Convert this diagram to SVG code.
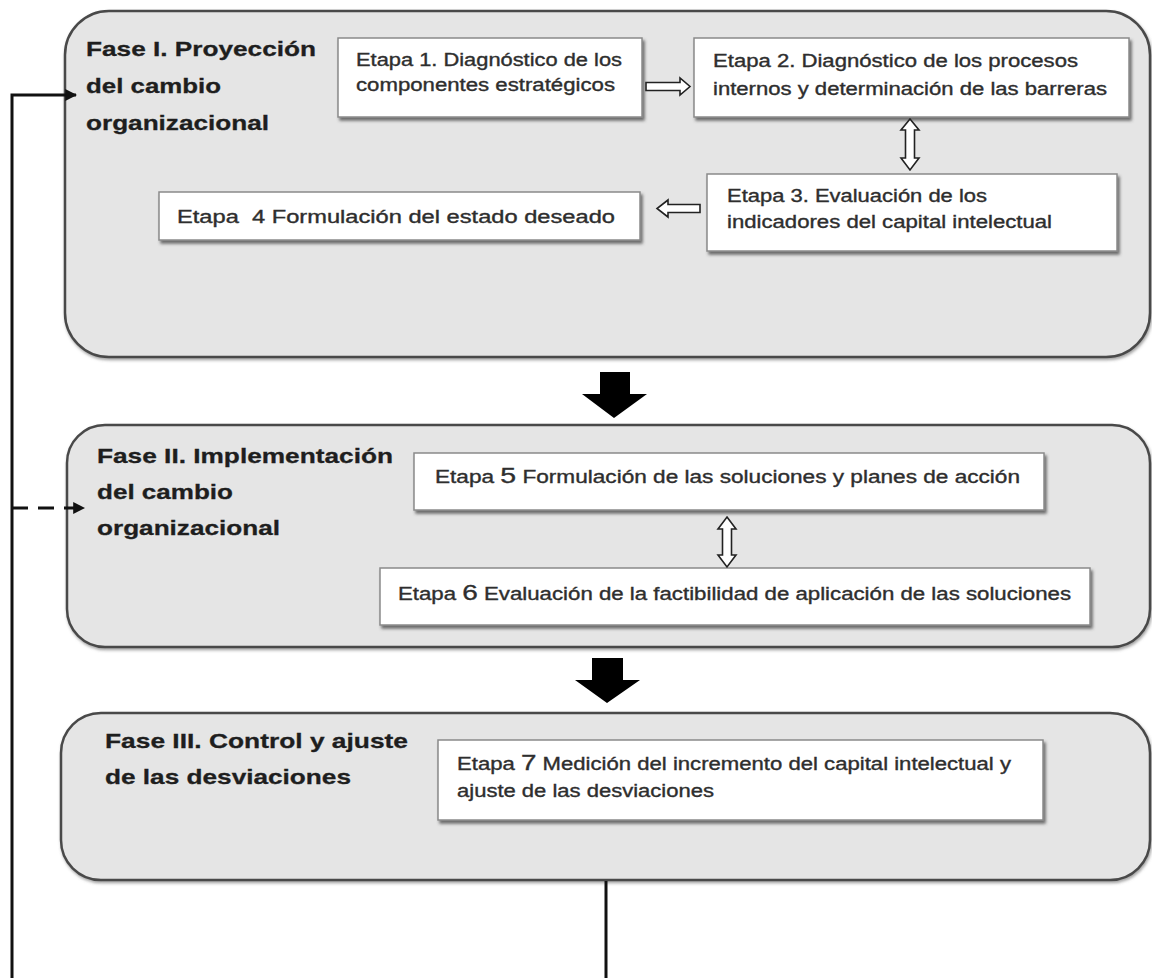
<svg xmlns="http://www.w3.org/2000/svg" width="1152" height="978" viewBox="0 0 1152 978">
  <defs>
    <filter id="phaseShadow" x="-5%" y="-5%" width="110%" height="115%">
      <feDropShadow dx="1" dy="2" stdDeviation="1.5" flood-color="#666" flood-opacity="0.6"/>
    </filter>
    <filter id="stageShadow" x="-5%" y="-10%" width="110%" height="130%">
      <feDropShadow dx="2" dy="3" stdDeviation="1.6" flood-color="#444" flood-opacity="0.75"/>
    </filter>
    <marker id="headSmall" viewBox="0 0 10 10" refX="9" refY="5" markerWidth="4" markerHeight="4" orient="auto" markerUnits="strokeWidth">
      <path d="M0,0 L10,5 L0,10 Z" fill="#111"/>
    </marker>
    <style>
      .phase { fill: #e5e5e5; stroke: #4a4a4a; stroke-width: 2.5; filter: url(#phaseShadow); }
      .stage { fill: #ffffff; stroke: #8a8a8a; stroke-width: 1.5; filter: url(#stageShadow); }
      .ptitle { font-family: "Liberation Sans", Arial, sans-serif; font-weight: bold; font-size: 21px; fill: #1e1e1e; stroke: #1e1e1e; stroke-width: 0.3; }
      .stext { font-family: "Liberation Sans", Arial, sans-serif; font-size: 17.5px; fill: #2e2e2e; stroke: #2e2e2e; stroke-width: 0.35; }
      .big { font-size: 22px; }
      .hollow { fill: #ffffff; stroke: #222; stroke-width: 1.6; stroke-linejoin: miter; }
      .solid { fill: #000; }
      .line { fill: none; stroke: #111; stroke-width: 3; }
    </style>
  </defs>

  <rect width="1152" height="978" fill="#ffffff"/>

  <!-- Phase I -->
  <g id="fase1">
    <rect class="phase" x="65" y="11" width="1085" height="346" rx="44" ry="44"/>
    <text class="ptitle">
      <tspan x="86" y="56" textLength="230" lengthAdjust="spacingAndGlyphs">Fase I. Proyección</tspan>
      <tspan x="86" y="93" textLength="135" lengthAdjust="spacingAndGlyphs">del cambio</tspan>
      <tspan x="86" y="130" textLength="183" lengthAdjust="spacingAndGlyphs">organizacional</tspan>
    </text>
  </g>

  <g id="etapa1">
    <rect class="stage" x="338" y="38" width="304" height="79"/>
    <text class="stext">
      <tspan x="356" y="66" textLength="266" lengthAdjust="spacingAndGlyphs">Etapa 1. Diagnóstico de los</tspan>
      <tspan x="356" y="91" textLength="259" lengthAdjust="spacingAndGlyphs">componentes estratégicos</tspan>
    </text>
  </g>

  <g id="etapa2">
    <rect class="stage" x="694" y="38" width="435" height="79"/>
    <text class="stext">
      <tspan x="713" y="67" textLength="365" lengthAdjust="spacingAndGlyphs">Etapa 2. Diagnóstico de los procesos</tspan>
      <tspan x="713" y="95" textLength="394" lengthAdjust="spacingAndGlyphs">internos y determinación de las barreras</tspan>
    </text>
  </g>

  <g id="etapa3">
    <rect class="stage" x="707" y="174" width="410" height="77"/>
    <text class="stext">
      <tspan x="727" y="202" textLength="260" lengthAdjust="spacingAndGlyphs">Etapa 3. Evaluación de los</tspan>
      <tspan x="727" y="228" textLength="325" lengthAdjust="spacingAndGlyphs">indicadores del capital intelectual</tspan>
    </text>
  </g>

  <g id="etapa4">
    <rect class="stage" x="159" y="192" width="481" height="48"/>
    <text class="stext" x="177" y="223" textLength="438" lengthAdjust="spacingAndGlyphs" xml:space="preserve">Etapa  4 Formulación del estado deseado</text>
  </g>

  <!-- Phase II -->
  <g id="fase2">
    <rect class="phase" x="67" y="425" width="1083" height="222" rx="38" ry="38"/>
    <text class="ptitle">
      <tspan x="97" y="463" textLength="296" lengthAdjust="spacingAndGlyphs">Fase II. Implementación</tspan>
      <tspan x="97" y="499" textLength="136" lengthAdjust="spacingAndGlyphs">del cambio</tspan>
      <tspan x="97" y="535" textLength="183" lengthAdjust="spacingAndGlyphs">organizacional</tspan>
    </text>
  </g>

  <g id="etapa5">
    <rect class="stage" x="414" y="453" width="630" height="57"/>
    <text class="stext" x="435" y="483" textLength="585" lengthAdjust="spacingAndGlyphs">Etapa <tspan class="big">5</tspan> Formulación de las soluciones y planes de acción</text>
  </g>

  <g id="etapa6">
    <rect class="stage" x="380" y="568" width="710" height="57"/>
    <text class="stext" x="398" y="600" textLength="673" lengthAdjust="spacingAndGlyphs">Etapa <tspan class="big">6</tspan>  Evaluación de la factibilidad de aplicación de las soluciones</text>
  </g>

  <!-- Phase III -->
  <g id="fase3">
    <rect class="phase" x="61" y="713" width="1089" height="167" rx="40" ry="40"/>
    <text class="ptitle">
      <tspan x="105" y="748" textLength="303" lengthAdjust="spacingAndGlyphs">Fase III. Control y ajuste</tspan>
      <tspan x="105" y="784" textLength="246" lengthAdjust="spacingAndGlyphs">de las desviaciones</tspan>
    </text>
  </g>

  <g id="etapa7">
    <rect class="stage" x="438" y="740" width="605" height="80"/>
    <text class="stext">
      <tspan x="457" y="770" textLength="554" lengthAdjust="spacingAndGlyphs">Etapa <tspan class="big">7</tspan> Medición del incremento del capital intelectual y</tspan>
      <tspan x="457" y="797" textLength="257" lengthAdjust="spacingAndGlyphs">ajuste de las desviaciones</tspan>
    </text>
  </g>

  <!-- Connectors -->
  <g id="connectors">
    <!-- hollow arrow: etapa 1 to etapa 2 -->
    <path class="hollow" d="M646,82.5 H680 V78 L690,86.5 L680,95 V90.5 H646 Z"/>
    <!-- hollow double arrow: etapa 2 and etapa 3 -->
    <path class="hollow" d="M910,119 L919,130 H914.5 V158 H919 L910,170 L901,158 H905.5 V130 H901 Z"/>
    <!-- hollow arrow: etapa 3 to etapa 4 -->
    <path class="hollow" d="M700,204.5 H668 V200 L657,208.5 L668,217 V212.5 H700 Z"/>
    <!-- hollow double arrow: etapa 5 and etapa 6 -->
    <path class="hollow" d="M727,517 L736,529 H731.5 V555 H736 L727,567 L718,555 H722.5 V529 H718 Z"/>

    <!-- block arrows between phases -->
    <path class="solid" d="M600,372 H630 V394 H647 L614,418 L582,394 H600 Z"/>
    <path class="solid" d="M592,658 H623 V680 H640 L607,703 L575,680 H592 Z"/>

    <!-- feedback loop from phase III -->
    <path class="line" d="M606,881 V978"/>
    <path class="line" d="M12,978 V95 H76" marker-end="url(#headSmall)"/>
    <path class="line" d="M12,508 H84" stroke-dasharray="16,10" marker-end="url(#headSmall)"/>
  </g>
</svg>
